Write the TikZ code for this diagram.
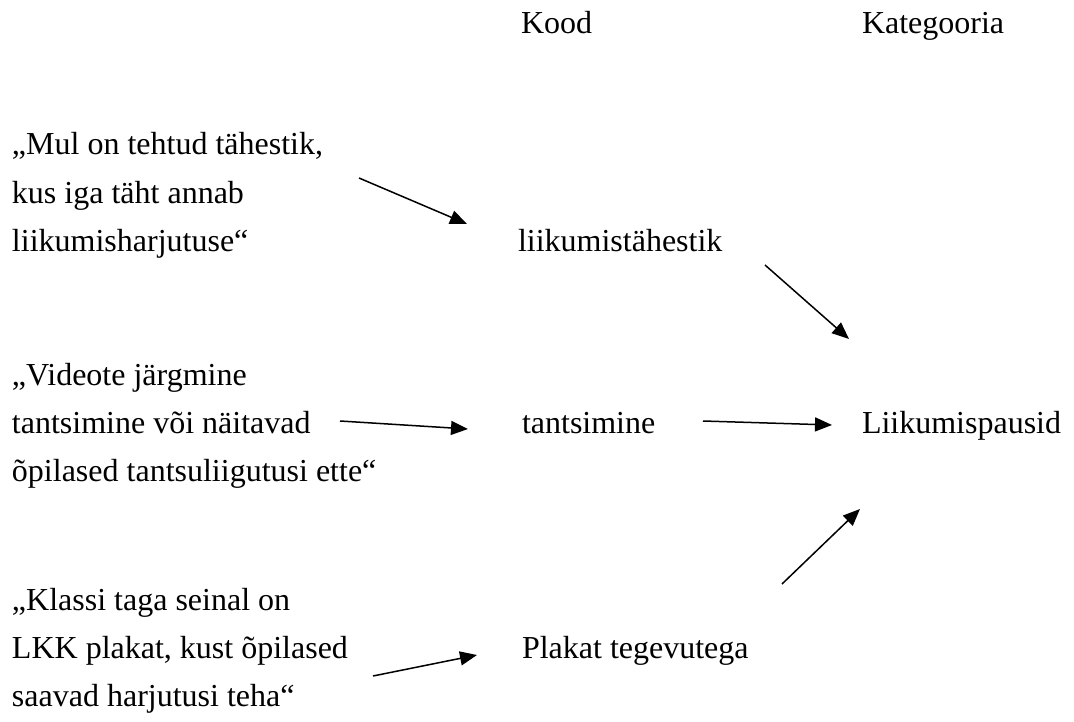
\documentclass[tikz,border=0pt]{standalone}
\usepackage{fontspec}
\setmainfont{Liberation Serif}
\usetikzlibrary{arrows.meta}
\begin{document}
\begin{tikzpicture}[x=1pt,y=-1pt,
  txt/.style={anchor=base west,inner sep=0pt,outer sep=0pt,font=\fontsize{32}{48}\selectfont},
  arr/.style={line width=1.5pt,-{Triangle[length=17pt,width=14pt]}}]
\useasboundingbox (0,0) rectangle (1074,722);
\node[txt] (kood) at (521,34) {Kood};
\node[txt] (kat) at (862,34) {Kategooria};
\node[txt] (q1a) at (12,155) {„Mul on tehtud tähestik,};
\node[txt] (q1b) at (12,204) {kus iga täht annab};
\node[txt] (q1c) at (12,252) {liikumisharjutuse“};
\node[txt] (k1) at (518,252) {liikumistähestik};
\node[txt] (q2a) at (12,385) {„Videote järgmine};
\node[txt] (q2b) at (12,433) {tantsimine või näitavad};
\node[txt] (q2c) at (12,481) {õpilased tantsuliigutusi ette“};
\node[txt] (k2) at (522,433) {tantsimine};
\node[txt] (cat) at (862,433) {Liikumispausid};
\node[txt] (q3a) at (12,610) {„Klassi taga seinal on};
\node[txt] (q3b) at (12,658) {LKK plakat, kust õpilased};
\node[txt] (q3c) at (12,706) {saavad harjutusi teha“};
\node[txt] (k3) at (522,658) {Plakat tegevutega};
\draw[arr] ([shift={(347,-26)}]q1b.base west) -- ([shift={(-51,-28)}]k1.base west);
\draw[arr] ([shift={(247,13)}]k1.base west) -- ([shift={(-13,-94)}]cat.base west);
\draw[arr] ([shift={(328,-12)}]q2b.base west) -- ([shift={(-54,-4)}]k2.base west);
\draw[arr] ([shift={(181,-12)}]k2.base west) -- ([shift={(-30,-8)}]cat.base west);
\draw[arr] ([shift={(260,-74)}]k3.base west) -- ([shift={(-2,76)}]cat.base west);
\draw[arr] ([shift={(361,18)}]q3b.base west) -- ([shift={(-45,-3)}]k3.base west);
\end{tikzpicture}
\end{document}
